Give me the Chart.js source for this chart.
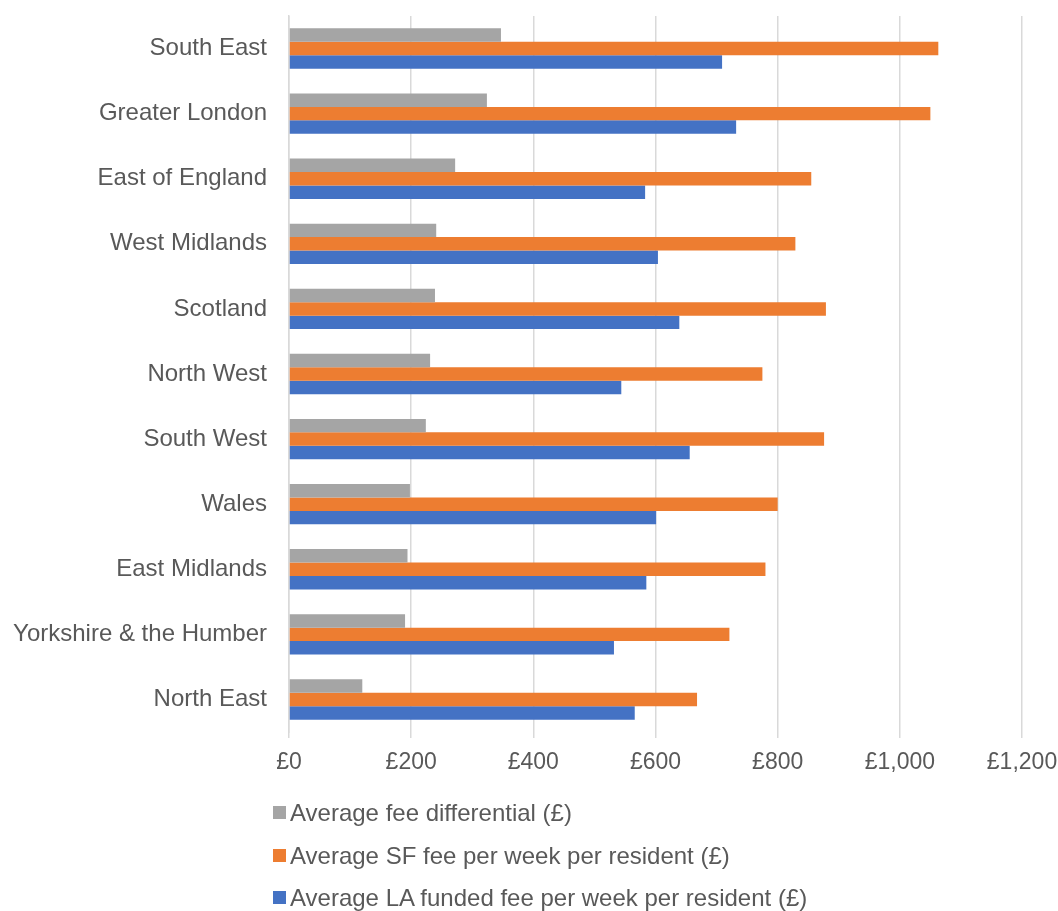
<!DOCTYPE html>
<html>
<head>
<meta charset="utf-8">
<script src="https://cdn.jsdelivr.net/npm/chart.js@4"></script>
<style>
    body { margin: 0; background: #fff; }
    #wrap { position: relative; width: 1058px; height: 911px; }
    #legend {
        position: absolute;
        left: 273px;
        top: 792px;
        font-family: "Liberation Sans", Arial, sans-serif;
        font-size: 24px;
        color: #595959;
    }
    .item { height: 42.5px; line-height: 42.5px; white-space: nowrap; }
    .box { display: inline-block; width: 13px; height: 13px; margin-right: 4px; vertical-align: middle; position: relative; top: -2px; }
</style>
</head>
<body>
<div id="wrap">
    <canvas id="chart"></canvas>
    <div id="legend"></div>
</div>
<script>
const regions = [
    "South East",
    "Greater London",
    "East of England",
    "West Midlands",
    "Scotland",
    "North West",
    "South West",
    "Wales",
    "East Midlands",
    "Yorkshire & the Humber",
    "North East",
];
const fee_differential = [347, 324, 272, 241, 239, 231, 224, 198, 194, 190, 120];
const sf_fee = [1063, 1050, 855, 829, 879, 775, 876, 800, 780, 721, 668];
const la_fee = [709, 732, 583, 604, 639, 544, 656, 601, 585, 532, 566];

const series = [
    { label: "Average fee differential (£)", data: fee_differential, color: "#A5A5A5" },
    { label: "Average SF fee per week per resident (£)", data: sf_fee, color: "#ED7D31" },
    { label: "Average LA funded fee per week per resident (£)", data: la_fee, color: "#4472C4" },
];

const font = "'Liberation Sans', Arial, sans-serif";

new Chart(document.getElementById("chart").getContext("2d"), {
    type: "bar",
    data: {
        labels: regions,
        datasets: series.map((s) => ({
            label: s.label,
            data: s.data,
            backgroundColor: s.color,
            borderWidth: 0,
            categoryPercentage: 0.62,
            barPercentage: 1.0,
        })),
    },
    options: {
        indexAxis: "y",
        responsive: true,
        maintainAspectRatio: false,
        animation: false,
        layout: { padding: { top: 16, right: 36, bottom: 129, left: 0 } },
        plugins: {
            legend: { display: false },
            tooltip: { enabled: false },
        },
        scales: {
            x: {
                min: 0,
                max: 1200,
                ticks: {
                    stepSize: 200,
                    padding: 11,
                    maxRotation: 0,
                    color: "#595959",
                    font: { family: font, size: 23 },
                    callback: (v) => "£" + v.toLocaleString("en-GB"),
                },
                grid: { color: "#D9D9D9", lineWidth: 1.5, tickLength: 6 },
                border: { display: false },
                afterFit: (scale) => {
                    scale.height = 50;
                    scale.paddingLeft = 0;
                    scale.paddingRight = 0;
                },
            },
            y: {
                ticks: {
                    padding: 22,
                    color: "#595959",
                    font: { family: font, size: 24 },
                },
                grid: { display: false, drawTicks: false },
                border: { display: true, color: "#D9D9D9", width: 1.5 },
                afterFit: (scale) => {
                    scale.width = 289;
                    scale.paddingTop = 0;
                    scale.paddingBottom = 0;
                },
            },
        },
    },
});

// vertical legend below the chart, like the original
const legend = document.getElementById("legend");
series.forEach((s) => {
    const row = document.createElement("div");
    row.className = "item";
    row.innerHTML = '<span class="box" style="background:' + s.color + '"></span>' + s.label;
    legend.appendChild(row);
});
</script>
</body>
</html>
